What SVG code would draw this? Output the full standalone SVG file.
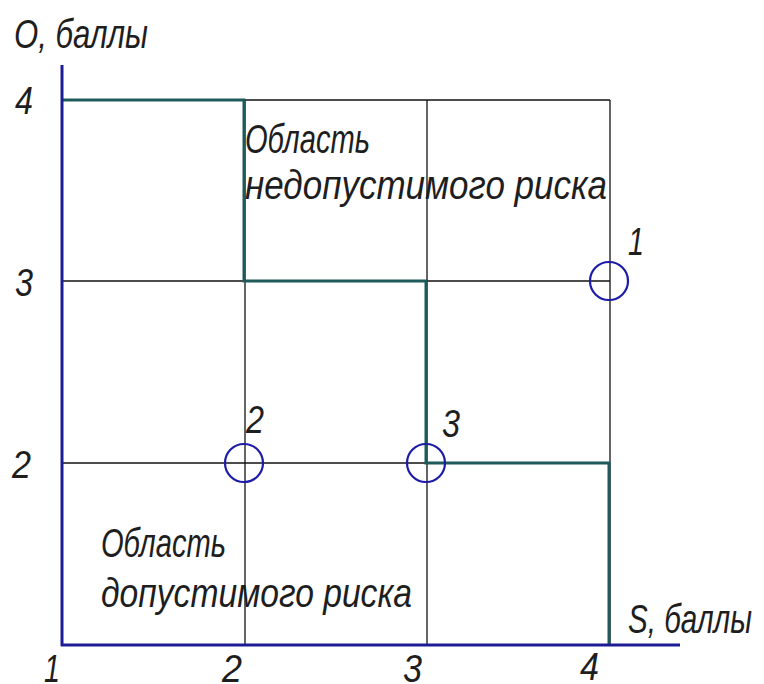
<svg xmlns="http://www.w3.org/2000/svg" width="764" height="684" viewBox="0 0 764 684">
<style>
text{font-family:"Liberation Sans",Arial,sans-serif;font-style:italic;font-size:40px;fill:#1e1e1e}
.d{font-size:39px}
.grid{stroke:#111;stroke-width:1.3;fill:none}
.axis{stroke:#1c1c96;stroke-width:3;fill:none}
.step{stroke:#1f5a5a;stroke-width:3;fill:none}
.pt{stroke:#1c1ca8;stroke-width:2.2;fill:none}
</style>
<rect width="764" height="684" fill="#fff"/>
<g id="grid">
<line class="grid" x1="62" y1="100" x2="610" y2="100"/>
<line class="grid" x1="62" y1="281" x2="610" y2="281"/>
<line class="grid" x1="62" y1="463" x2="610" y2="463"/>
<line class="grid" x1="245" y1="100" x2="245" y2="645"/>
<line class="grid" x1="427" y1="100" x2="427" y2="645"/>
<line class="grid" x1="610" y1="100" x2="610" y2="645"/>
</g>
<g id="connectors">
<polyline class="step" points="62,100 244,100 244,281 426,281 426,463 609,463 609,645"/>
</g>
<g id="axes">
<line class="axis" x1="62" y1="65" x2="62" y2="646"/>
<line class="axis" x1="61" y1="645" x2="680" y2="645"/>
</g>
<g id="point1"><circle class="pt" cx="609" cy="281" r="19"/><text class="d" x="628" y="255" textLength="16" lengthAdjust="spacingAndGlyphs">1</text></g>
<g id="point2"><circle class="pt" cx="244" cy="463" r="19"/><text class="d" x="246" y="433" textLength="18" lengthAdjust="spacingAndGlyphs">2</text></g>
<g id="point3"><circle class="pt" cx="426" cy="463" r="19"/><text class="d" x="442" y="437" textLength="18" lengthAdjust="spacingAndGlyphs">3</text></g>
<g id="labels">
<text x="14" y="48" textLength="134" lengthAdjust="spacingAndGlyphs">O, баллы</text>
<text x="628" y="633" textLength="124" lengthAdjust="spacingAndGlyphs">S, баллы</text>
<text class="d" x="15" y="114" textLength="18" lengthAdjust="spacingAndGlyphs">4</text>
<text class="d" x="15" y="296" textLength="18" lengthAdjust="spacingAndGlyphs">3</text>
<text class="d" x="12" y="478" textLength="19" lengthAdjust="spacingAndGlyphs">2</text>
<text class="d" x="44" y="682" textLength="16" lengthAdjust="spacingAndGlyphs">1</text>
<text class="d" x="222" y="682" textLength="20" lengthAdjust="spacingAndGlyphs">2</text>
<text class="d" x="403" y="682" textLength="19" lengthAdjust="spacingAndGlyphs">3</text>
<text class="d" x="580" y="680" textLength="19" lengthAdjust="spacingAndGlyphs">4</text>
<text x="245" y="153" textLength="125" lengthAdjust="spacingAndGlyphs">Область</text>
<text x="245" y="199" textLength="362" lengthAdjust="spacingAndGlyphs">недопустимого риска</text>
<text x="101" y="557" textLength="125" lengthAdjust="spacingAndGlyphs">Область</text>
<text x="101" y="607" textLength="311" lengthAdjust="spacingAndGlyphs">допустимого риска</text>
</g>
</svg>
